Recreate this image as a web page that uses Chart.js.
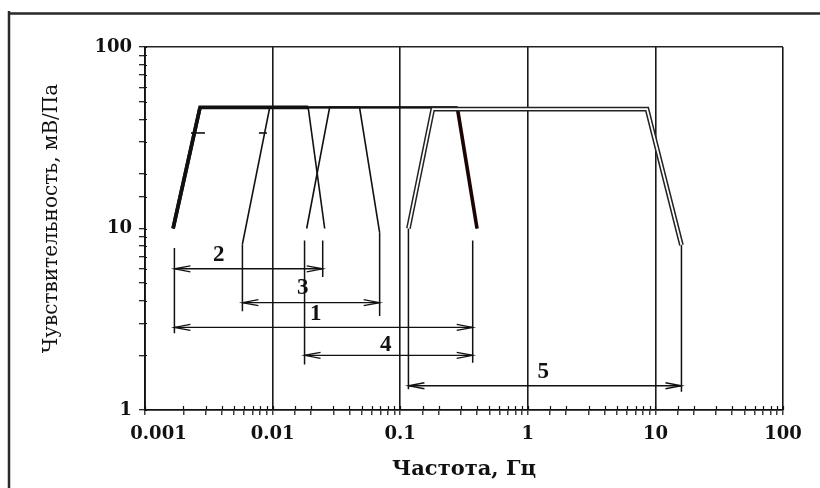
<!DOCTYPE html>
<html>
<head>
<meta charset="utf-8">
<script src="https://cdn.jsdelivr.net/npm/chart.js@4.4.1/dist/chart.umd.min.js"></script>
<style>
  html, body { margin: 0; padding: 0; background: #fff; }
</style>
</head>
<body>
<canvas id="sensChart" width="820" height="488"></canvas>
<script>
// frequency response of the five sensors (Hz, mV/Pa)
const freq1 = [0.00166, 0.0027, 0.28, 0.40];
const sens1 = [10, 46.5, 46.5, 10];
const freq2 = [0.00166, 0.0027, 0.019, 0.0256];
const sens2 = [10, 46.5, 46.5, 10];
const freq3 = [0.0058, 0.0095, 0.048, 0.069];
const sens3 = [8.2, 46.5, 46.5, 9.5];
const freq4 = [0.0185, 0.028, 0.28, 0.40];
const sens4 = [10, 46.5, 46.5, 10];
const freq5 = [0.116, 0.18, 8.6, 16];
const sens5 = [10, 45.5, 45.5, 8.1];

// band arrows and their numbers
const arrowLabels = ['1', '2', '3', '4', '5'];
const arrowFrom = [0.0017, 0.0017, 0.0058, 0.0178, 0.116];
const arrowTo = [0.37, 0.0247, 0.069, 0.37, 16];
const arrowLevel = [2.85, 6.0, 3.9, 2.0, 1.36];
const labelFreq = [0.0218, 0.00379, 0.0172, 0.0769, 1.32];
const labelSens = [3.38, 7.14, 4.70, 2.28, 1.62];

// vertical extension lines under the curves
const dropFreq = [0.0017, 0.0247, 0.0058, 0.069, 0.37, 0.0178, 0.116, 16];
const dropTop = [7.8, 8.6, 8.2, 9.5, 8.6, 8.6, 10, 8.1];
const dropBottom = [2.65, 5.4, 3.5, 3.3, 1.82, 1.78, 1.3, 1.26];

// small dashes across the rising edges
const markFreq = [0.0026, 0.0084];
const markSens = [33.6, 33.6];

const xDecades = [0.001, 0.01, 0.1, 1, 10, 100];
const xTickLabels = ['\u2002\u2002\u20020.001', '0.01', '0.1', '1', '10', '100'];
const yDecades = [1, 10, 100];
const yTickLabels = ['1', '10', '100'];

const ink = '#111';
const serif = 'DejaVu Serif';

function pts(xs, ys) {
    return xs.map((x, i) => ({ x: x, y: ys[i] }));
}

function decadeIndex(list, v) {
    return list.findIndex(d => Math.abs(v / d - 1) < 1e-6);
}

function line(data, extra) {
    return Object.assign({
        data: data,
        borderColor: ink,
        borderWidth: 1.6,
        pointRadius: 0,
        fill: false,
        tension: 0,
        order: 2
    }, extra);
}

let datasets = [
    line(pts(freq5, sens5), { borderColor: '#fff', borderWidth: 1.8, order: 0 }),
    line(pts(freq5, sens5), { borderColor: '#222', borderWidth: 4.8, order: 1 }),
    line(pts(freq1, sens1), {
        borderWidth: 3.6,
        segment: {
            borderWidth: c => c.p0DataIndex === 1 ? 2.2 : 3.6,
            borderColor: c => c.p0DataIndex === 2 ? '#1c0404' : ink
        }
    }),
    line(pts(freq2, sens2), {
        borderWidth: 3.6,
        segment: { borderWidth: c => c.p0DataIndex === 2 ? 1.6 : 3.6 }
    }),
    line(pts(freq3, sens3)),
    line(pts(freq4, sens4)),
    line(pts(markFreq, markSens), {
        showLine: false, pointStyle: 'line', pointRadius: [7, 4],
        pointBorderWidth: 1.6, pointBorderColor: ink
    })
];

for (let i = 0; i < dropFreq.length; i++) {
    datasets.push(line([{ x: dropFreq[i], y: dropTop[i] }, { x: dropFreq[i], y: dropBottom[i] }], { borderWidth: 1.5 }));
}
for (let i = 0; i < arrowFrom.length; i++) {
    datasets.push(line([{ x: arrowFrom[i], y: arrowLevel[i] }, { x: arrowTo[i], y: arrowLevel[i] }], { borderWidth: 1.3, arrow: true }));
}

const arrowHeads = {
    id: 'arrowHeads',
    afterDatasetsDraw(chart) {
        const ctx = chart.ctx;
        ctx.save();
        ctx.strokeStyle = ink;
        ctx.lineWidth = 1.3;
        chart.data.datasets.forEach((ds, i) => {
            if (!ds.arrow) return;
            const p = chart.getDatasetMeta(i).data;
            [[p[0], 1], [p[p.length - 1], -1]].forEach(([pt, dir]) => {
                ctx.beginPath();
                ctx.moveTo(pt.x + dir * 16, pt.y - 3);
                ctx.lineTo(pt.x, pt.y);
                ctx.lineTo(pt.x + dir * 16, pt.y + 3);
                ctx.stroke();
            });
        });
        // numbers of the bands
        const xs = chart.scales.x, ys = chart.scales.y;
        ctx.fillStyle = ink;
        ctx.font = 'bold 23px "Liberation Serif"';
        ctx.textAlign = 'center';
        ctx.textBaseline = 'middle';
        arrowLabels.forEach((t, i) => {
            ctx.fillText(t, xs.getPixelForValue(labelFreq[i]), ys.getPixelForValue(labelSens[i]));
        });
        ctx.restore();
    }
};

const innerTicks = {
    id: 'innerTicks',
    afterDraw(chart) {
        const ctx = chart.ctx;
        const xs = chart.scales.x, ys = chart.scales.y;
        ctx.save();
        ctx.strokeStyle = ink;
        ctx.lineWidth = 1.2;
        ctx.beginPath();
        xs.ticks.forEach(t => {
            const px = Math.round(xs.getPixelForValue(t.value)) + 0.5;
            ctx.moveTo(px, xs.top);
            ctx.lineTo(px, xs.top - 4);
        });
        ys.ticks.forEach(t => {
            const py = Math.round(ys.getPixelForValue(t.value)) + 0.5;
            ctx.moveTo(ys.right, py);
            ctx.lineTo(ys.right + 2, py);
        });
        ctx.stroke();
        // outer frame of the figure
        ctx.strokeStyle = '#2a2a2a';
        ctx.lineWidth = 2.5;
        ctx.beginPath();
        ctx.moveTo(9, 488);
        ctx.lineTo(9, 11);
        ctx.moveTo(8, 13.5);
        ctx.lineTo(820, 13.5);
        ctx.stroke();
        ctx.restore();
    }
};

const whiteBg = {
    id: 'whiteBg',
    beforeDraw(chart) {
        const ctx = chart.ctx;
        ctx.save();
        ctx.fillStyle = '#fff';
        ctx.fillRect(0, 0, chart.width, chart.height);
        ctx.restore();
    }
};

new Chart(document.getElementById('sensChart'), {
    type: 'line',
    data: { datasets: datasets },
    plugins: [whiteBg, arrowHeads, innerTicks],
    options: {
        responsive: false,
        animation: false,
        devicePixelRatio: 1,
        layout: { padding: { top: 47, right: 37, left: 0, bottom: 0 } },
        plugins: { legend: { display: false }, tooltip: { enabled: false } },
        scales: {
            x: {
                type: 'logarithmic',
                min: 0.001,
                max: 100,
                afterFit(s) { s.height = 78; },
                border: { color: ink, width: 1.8 },
                grid: {
                    color: c => decadeIndex(xDecades, c.tick.value) >= 0 ? '#1a1a1a' : 'rgba(0,0,0,0)',
                    lineWidth: 1.6,
                    tickColor: ink,
                    tickLength: 5,
                    tickWidth: 1.2
                },
                ticks: {
                    autoSkip: false,
                    maxRotation: 0,
                    padding: 9,
                    color: ink,
                    font: { family: serif, weight: 'bold', size: 18 },
                    callback: v => {
                        const k = decadeIndex(xDecades, v);
                        return k >= 0 ? xTickLabels[k] : '';
                    }
                },
                title: {
                    display: true,
                    text: 'Частота, Гц',
                    color: ink,
                    font: { family: serif, weight: 'bold', size: 21 },
                    padding: { top: 0, bottom: 6 }
                }
            },
            y: {
                type: 'logarithmic',
                min: 1,
                max: 100,
                afterFit(s) { s.width = 145; },
                border: { color: ink, width: 1.8 },
                grid: {
                    color: c => Math.abs(c.tick.value - 100) < 1e-6 ? '#222' : 'rgba(0,0,0,0)',
                    lineWidth: 1.4,
                    tickColor: ink,
                    tickLength: 6,
                    tickWidth: 1.2
                },
                ticks: {
                    autoSkip: false,
                    padding: 7,
                    color: ink,
                    font: { family: serif, weight: 'bold', size: 18 },
                    callback: v => {
                        const k = decadeIndex(yDecades, v);
                        return k >= 0 ? yTickLabels[k] : '';
                    }
                },
                title: {
                    display: true,
                    text: '\u2002\u2002Чувствительность, мВ/Па',
                    color: ink,
                    font: { family: serif, size: 20 },
                    padding: { top: 40, bottom: 0 }
                }
            }
        }
    }
});
</script>
</body>
</html>
